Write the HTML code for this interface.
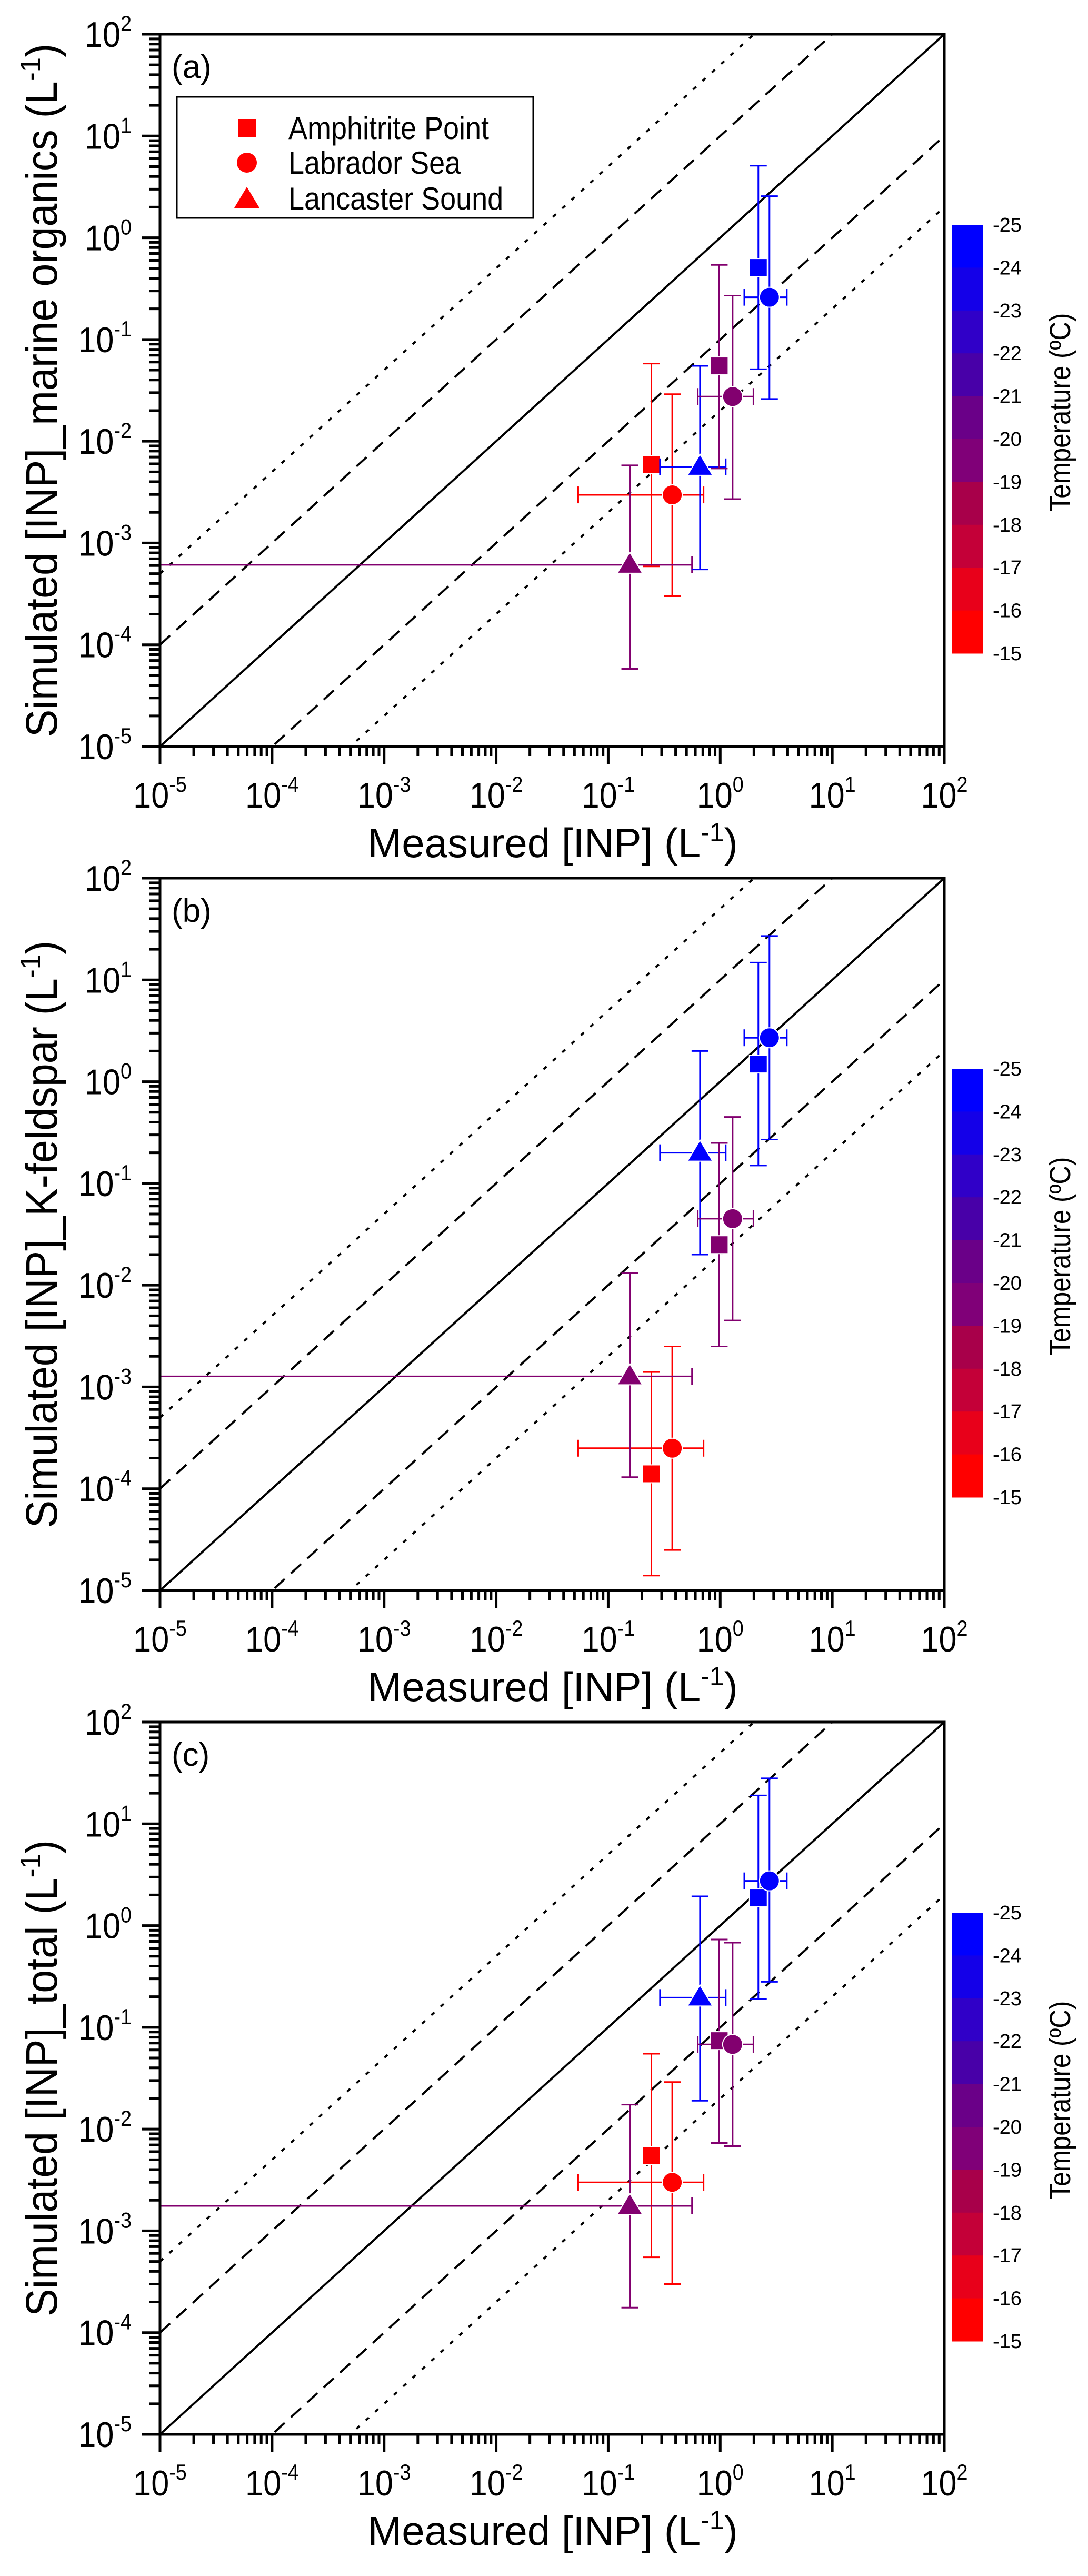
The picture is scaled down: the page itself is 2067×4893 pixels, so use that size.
<!DOCTYPE html>
<html><head><meta charset="utf-8"><title>Simulated vs measured INP</title>
<style>
html,body{margin:0;padding:0;background:#fff;}
svg{display:block;font-family:"Liberation Sans",Arial,sans-serif;}
</style></head>
<body>
<svg id="fig" xmlns="http://www.w3.org/2000/svg" width="2067" height="4893" viewBox="0 0 2067 4893"></svg>
<script>
// ---- data ----
const sites = ['Amphitrite Point','Labrador Sea','Lancaster Sound','Lancaster Sound','Amphitrite Point','Labrador Sea','Amphitrite Point','Labrador Sea'];
const temps = [-15,-15,-20,-25,-20,-20,-25,-25];
const measX = [0.243,0.373,0.156,0.66,0.98,1.29,2.19,2.75];
const measXlo = [null,0.054,1e-5,0.29,null,0.63,null,1.64];
const measXhi = [null,0.71,0.56,1.12,null,1.98,null,3.93];
const simA = [0.0059,0.00297,0.00061,0.0056,0.055,0.0275,0.51,0.26];
const simAlo = [0.00059,0.0003,5.8e-5,0.00055,0.0054,0.0027,0.051,0.026];
const simAhi = [0.058,0.029,0.0058,0.055,0.54,0.27,5.1,2.56];
const simB = [1.4e-4,2.5e-4,0.00127,0.20,0.025,0.045,1.49,2.7];
const simBlo = [1.4e-5,2.5e-5,1.3e-4,0.020,0.0025,0.0045,0.15,0.27];
const simBhi = [0.0014,0.0025,0.0132,2.0,0.25,0.45,14.8,27];
const simC = [0.0055,0.003,0.00176,0.196,0.074,0.068,1.87,2.75];
const simClo = [0.00055,0.0003,1.76e-4,0.019,0.0073,0.0068,0.19,0.28];
const simChi = [0.055,0.029,0.0174,1.94,0.73,0.68,19,28];
const decadeExps = [-5,-4,-3,-2,-1,0,1,2];
const cbTicks = [-25,-24,-23,-22,-21,-20,-19,-18,-17,-16,-15];
const cbColors = ['#0000ff','#1400e8','#3000c8','#4800a8','#6a0088','#800078','#a8004a','#c40038','#e8001a','#ff0000'];
const lineFactors = [1,10,0.1,50,0.02];
const panelLabels = ['(a)','(b)','(c)'];
const yTitles = ['marine organics','K-feldspar','total'];

// ---- layout ----
const NS='http://www.w3.org/2000/svg';
const svg=document.getElementById('fig');
const L=304,R=1794,H=1353,XMIN=-5,XMAX=2;
const tops=[65,1668,3271];
function X(v){return L+(Math.log10(v)-XMIN)/(XMAX-XMIN)*(R-L);}
function mk(tag,attrs,parent){const e=document.createElementNS(NS,tag);for(const k in attrs)e.setAttribute(k,attrs[k]);(parent||svg).appendChild(e);return e;}
function markerColor(t){let i=Math.round(-15-t);i=Math.max(0,Math.min(9,i));return cbColors[9-i];}
const markerColorFix={'-15':'#ff0000','-20':'#82006f','-25':'#0000ff'};

const sims=[[simA,simAlo,simAhi],[simB,simBlo,simBhi],[simC,simClo,simChi]];

tops.forEach((T,p)=>{
  const B=T+H;
  const Y=v=>T+(2-Math.log10(v))/7*H;
  const g=mk('g',{});
  
  
  const cp=mk('clipPath',{id:'clip'+p},g);
  mk('rect',{x:L,y:T,width:R-L,height:H},cp);
  const lg=mk('g',{'clip-path':'url(#clip'+p+')'},g);
  lineFactors.forEach((f,i)=>{
    const x1=1e-5,x2=100;
    const ln=mk('line',{x1:X(x1),y1:Y(x1*f),x2:X(x2),y2:Y(x2*f),stroke:'#000','stroke-width':4},lg);
    if(i==1||i==2)ln.setAttribute('stroke-dasharray','26 16');
    if(i>=3)ln.setAttribute('stroke-dasharray','8 16');
    
    
  });
  if(p!==1){
    const rl=mk('line',{x1:L+1,y1:Y(10**-4.3),x2:L+1,y2:B,stroke:'#ff0000','stroke-width':3},lg);
    
    
  }
  const [sv,slo,shi]=sims[p];
  for(let i=0;i<measX.length;i++){
    const c=markerColorFix[temps[i]]||markerColor(temps[i]);
    const px=X(measX[i]),py=Y(sv[i]);
    const eg=mk('g',{stroke:c,'stroke-width':3,fill:'none'},lg);
    
    
    mk('line',{x1:px,y1:Y(shi[i]),x2:px,y2:Y(slo[i])},eg);
    mk('line',{x1:px-16,y1:Y(shi[i]),x2:px+16,y2:Y(shi[i])},eg);
    mk('line',{x1:px-16,y1:Y(slo[i]),x2:px+16,y2:Y(slo[i])},eg);
    if(measXlo[i]!==null){
      mk('line',{x1:X(measXlo[i]),y1:py,x2:X(measXhi[i]),y2:py},eg);
      if(measXlo[i]>1e-5)mk('line',{x1:X(measXlo[i]),y1:py-16,x2:X(measXlo[i]),y2:py+16},eg);
      mk('line',{x1:X(measXhi[i]),y1:py-16,x2:X(measXhi[i]),y2:py+16},eg);
    }
    let m;
    if(sites[i]==='Amphitrite Point')m=mk('rect',{x:px-17,y:py-17,width:34,height:34,fill:c,stroke:'#fff','stroke-width':2},lg);
    else if(sites[i]==='Labrador Sea')m=mk('circle',{cx:px,cy:py,r:19,fill:c,stroke:'#fff','stroke-width':2},lg);
    else m=mk('polygon',{points:`${px},${py-24} ${px+24},${py+16} ${px-24},${py+16}`,fill:c,stroke:'#fff','stroke-width':2},lg);
    
    
  }
  const fr=mk('rect',{x:L,y:T,width:R-L,height:H,fill:'none',stroke:'#000','stroke-width':5},g);
  
  
  const tg=mk('g',{stroke:'#000','stroke-width':5},g);
  
  
  decadeExps.forEach(e=>{
    const v=10**e;
    mk('line',{x1:270,y1:Y(v),x2:L,y2:Y(v)},tg);
    mk('line',{x1:X(v),y1:B,x2:X(v),y2:B+34},tg);
    if(e<2)for(let k=2;k<10;k++){
      mk('line',{x1:284,y1:Y(k*v),x2:L,y2:Y(k*v)},tg);
      mk('line',{x1:X(k*v),y1:B,x2:X(k*v),y2:B+18},tg);
    }
    const yl=mk('text',{x:0,y:0,'text-anchor':'end','font-size':68,transform:`translate(250,${Y(v)+24}) scale(0.9,1)`},g);
    yl.innerHTML='10<tspan dy="-30" font-size="42">'+e+'</tspan>';
    
    
    const xl=mk('text',{x:0,y:0,'text-anchor':'middle','font-size':68,transform:`translate(${X(v)},${B+116}) scale(0.9,1)`},g);
    xl.innerHTML='10<tspan dy="-30" font-size="42">'+e+'</tspan>';
    
    
  });
  const xt=mk('text',{x:1050,y:B+210,'text-anchor':'middle','font-size':78},g);
  xt.innerHTML='Measured [INP] (L<tspan dy="-30" font-size="50">-1</tspan><tspan dy="30">)</tspan>';
  
  
  const yc=T+H/2;
  const yt=mk('text',{x:0,y:0,'text-anchor':'middle','font-size':84,transform:`translate(108,${yc}) rotate(-90) scale(0.94,1)`},g);
  yt.innerHTML='Simulated [INP]_'+yTitles[p]+' (L<tspan dy="-32" font-size="54">-1</tspan><tspan dy="32">)</tspan>';
  
  
  const pl=mk('text',{x:326,y:T+83,'font-size':62},g);
  pl.textContent=panelLabels[p];
  
  
  const cb=mk('g',{},g);
  
  
  const cT=T+362,cB=T+1176,segH=(cB-cT)/cbColors.length;
  cbColors.forEach((col,i)=>{
    const r=mk('rect',{x:1809,y:cT+i*segH,width:59,height:segH+0.5,fill:col},cb);
    
    
  });
  cbTicks.forEach((t,i)=>{
    const tx=mk('text',{x:1886,y:cT+i*segH+13,'font-size':38},cb);
    tx.textContent=String(t);
    
    
  });
  const ct=mk('text',{x:0,y:0,'text-anchor':'middle','font-size':56,transform:`translate(2033,${T+718}) rotate(-90) scale(0.88,1)`},cb);
  ct.textContent='Temperature (ºC)';
  
  
  if(p===0){
    const lgd=mk('g',{},g);
    
    
    mk('rect',{x:336,y:184,width:677,height:230,fill:'#fff',stroke:'#000','stroke-width':3},lgd);
    const names=['Amphitrite Point','Labrador Sea','Lancaster Sound'];
    const ys=[243,309,377];
    names.forEach((n,i)=>{
      const e=mk('g',{},lgd);
      
      
      const cx=469,cy=ys[i];
      if(i==0)mk('rect',{x:cx-17,y:cy-17,width:34,height:34,fill:'#ff0000'},e);
      else if(i==1)mk('circle',{cx:cx,cy:cy,r:19,fill:'#ff0000'},e);
      else mk('polygon',{points:`${cx},${cy-22} ${cx+24},${cy+18} ${cx-24},${cy+18}`,fill:'#ff0000'},e);
      const t=mk('text',{x:0,y:0,'font-size':60,transform:`translate(548,${cy+21}) scale(0.9,1)`},e);
      t.textContent=n;
    });
  }
});
</script>
</body></html>
